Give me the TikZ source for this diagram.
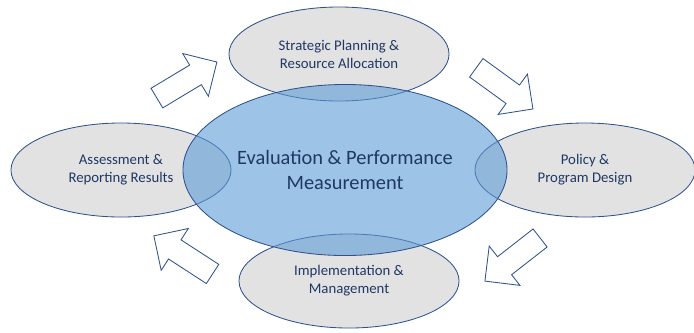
\documentclass[tikz,border=0pt]{standalone}
\usepackage{fontspec}
\setmainfont{Carlito}
\usetikzlibrary{shapes.geometric,shapes.arrows}
\definecolor{navyline}{RGB}{47,82,143}
\definecolor{navytext}{RGB}{31,56,100}
\definecolor{stagegray}{RGB}{226,226,226}
\definecolor{hubblue}{RGB}{91,155,213}
\tikzset{
    stage/.style={ellipse, draw=navyline, line width=0.6pt, fill=stagegray, inner sep=0pt,
        minimum width=5.5cm, minimum height=2.35cm, align=center, text=navytext,
        font=\fontsize{10.5}{12.8}\selectfont},
    hub/.style={ellipse, draw=navyline, line width=0.6pt, fill=hubblue, fill opacity=0.6,
        text opacity=1, inner sep=0pt, minimum width=8.1cm, minimum height=4.275cm,
        align=center, text=navytext, font=\fontsize{14.5}{17.7}\selectfont},
    cyclearrow/.style={single arrow, draw=navyline, line width=0.6pt, fill=white,
        inner xsep=0pt, inner ysep=0.275cm, single arrow head extend=0.3375cm,
        minimum height=1.75cm}
}
\begin{document}
\begin{tikzpicture}[x=0.025cm, y=-0.025cm]
    \useasboundingbox (0,0) rectangle (694,332);

    \node[stage] (plan) at (339,54) {Strategic Planning \&\\Resource Allocation};
    \node[stage] (policy) at (585,170) {Policy \&\\Program Design};
    \node[stage] (impl) at (349,281) {Implementation \&\\Management};
    \node[stage] (assess) at (121,170) {Assessment \&\\Reporting Results};

    \node[hub] (eval) at (345,170) {Evaluation \& Performance\\Measurement};

    \node[cyclearrow, rotate=31] (toplan) at (182,83) {};
    \node[cyclearrow, rotate=-36] (topolicy) at (500,85) {};
    \node[cyclearrow, rotate=218] (toimpl) at (517,256) {};
    \node[cyclearrow, rotate=147] (toassess) at (188,258) {};

\end{tikzpicture}
\end{document}
